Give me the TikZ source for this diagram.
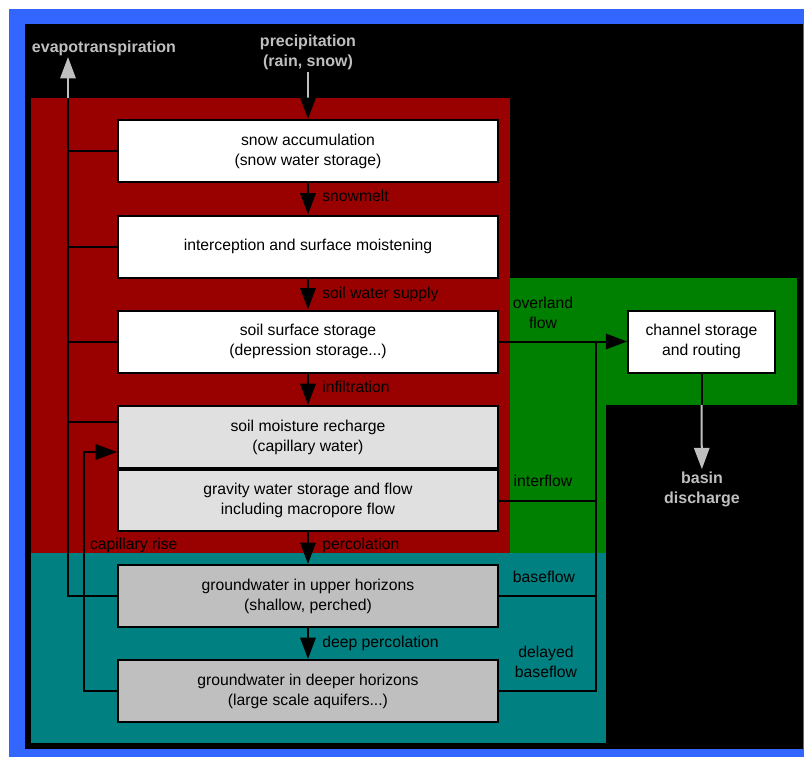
\documentclass[tikz,border=0pt]{standalone}
\usepackage{fontspec}
\setmainfont{Liberation Sans}
\usetikzlibrary{arrows.meta,positioning}
\definecolor{frameblue}{rgb}{0.2,0.4,1}
\definecolor{soilred}{rgb}{0.6,0,0}
\definecolor{groundteal}{rgb}{0,0.5,0.5}
\definecolor{flowgreen}{rgb}{0,0.5,0}
\definecolor{lightgrey}{rgb}{0.88,0.88,0.88}
\definecolor{midgrey}{rgb}{0.75,0.75,0.75}

\begin{document}
\begin{tikzpicture}[x=0.75pt,y=-0.75pt,line width=1.5pt,
	>={Triangle[length=16pt,width=11.5pt]},
	font=\fontsize{11.8}{15}\selectfont,
	store/.style={draw,fill=white,minimum width=285pt,minimum height=46.5pt,
		align=center,inner sep=0pt},
	flowlabel/.style={anchor=west,align=left,inner sep=0pt},
	sidelabel/.style={align=center,inner sep=0pt},
	outlabel/.style={align=center,inner sep=1pt,text=midgrey,
		font=\fontsize{12}{15}\selectfont\bfseries}]
\useasboundingbox (0,0) rectangle (804,757);
\fill[white] (0,0) rectangle (804,757);
\fill[frameblue] (9,9) rectangle (804,757);
\fill[black] (25,24) rectangle (803,749);
\fill[soilred] (31,98) rectangle (510,553);
\fill[flowgreen] (510,278) rectangle (606,553);
\fill[flowgreen] (606,278) rectangle (797,405);
\fill[groundteal] (31,553) rectangle (606,743);

\node[store] (snow) at (308,151) {snow accumulation\\(snow water storage)};
\node[store] (icpt) at (308,246.5) {interception and surface moistening};
\node[store] (surf) at (308,341.5) {soil surface storage\\(depression storage...)};
\node[store,fill=lightgrey,minimum height=46.5pt] (moist) at (308,437)
	{soil moisture recharge\\(capillary water)};
\node[store,fill=lightgrey,minimum height=45.75pt] (grav) at (308,500.5)
	{gravity water storage and flow\\including macropore flow};
\node[store,fill=midgrey] (gwup) at (308,596)
	{groundwater in upper horizons\\(shallow, perched)};
\node[store,fill=midgrey] (gwdeep) at (308,691)
	{groundwater in deeper horizons\\(large scale aquifers...)};
\node[store,minimum width=110pt] (channel) at (701.5,341.5)
	{channel storage\\and routing};

\node[outlabel] (evap) at (104,48) {evapotranspiration};
\node[outlabel] (precip) at (308,52) {precipitation\\(rain, snow)};
\node[outlabel] (disch) at (702,489) {basin\\discharge};

\coordinate (etbase) at (68,98);
\coordinate (ettip) at (68,57);
\coordinate (precred) at (308,98);
\coordinate (capcorner) at (84,452);
\coordinate (trunk) at (596,341.5);
\coordinate (chgreen) at (701.5,405);

\draw[midgrey] (precip) -- (precred);
\draw[->] (precred) -- (snow);
\draw[->] (snow) -- (icpt)
	node[flowlabel,midway,right=10pt,yshift=2pt] {snowmelt};
\draw[->] (icpt) -- (surf)
	node[flowlabel,midway,right=10pt] {soil water supply};
\draw[->] (surf) -- (moist)
	node[flowlabel,midway,right=10pt,yshift=2pt] {infiltration};
\draw[->] (grav) -- (gwup)
	node[flowlabel,midway,right=10pt,yshift=2pt] {percolation};
\draw[->] (gwup) -- (gwdeep)
	node[flowlabel,midway,right=10pt] {deep percolation};

\draw (gwup.west) -| (etbase);
\foreach \n in {snow,icpt,surf}{
	\draw (\n.west) -- (\n.west -| etbase);
}
\draw ([yshift=11.5pt]moist.west) -- ([yshift=11.5pt]moist.west -| etbase);
\draw[midgrey,->] (etbase) -- (ettip);

\draw[->] (gwdeep.west) -| (capcorner) -- (capcorner -| moist.west);
\node[flowlabel] (caprise) at (89,545) {capillary rise};

\draw[->] (surf.east) -- (channel.west);
\draw (gwdeep.east) -| (trunk);
\draw (grav.east) -- (grav.east -| trunk);
\draw (gwup.east) -- (gwup.east -| trunk);

\node[sidelabel] (overland) at (543,313) {overland\\flow};
\node[sidelabel] (inter) at (543,481) {interflow};
\node[sidelabel] (base) at (544,577) {baseflow};
\node[sidelabel] (delayed) at (546,662) {delayed\\baseflow};

\draw (channel) -- (chgreen);
\draw[midgrey,->] (chgreen) -- (disch);
\end{tikzpicture}
\end{document}
